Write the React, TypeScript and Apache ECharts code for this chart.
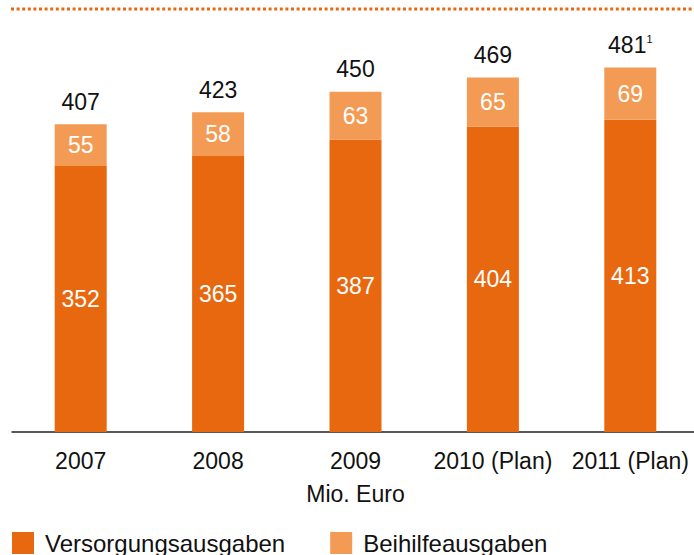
import React, { useEffect, useRef } from "react";
import * as echarts from "echarts";

const categories = ["2007", "2008", "2009", "2010 (Plan)", "2011 (Plan)"];
const versorgung = [352, 365, 387, 404, 413];
const beihilfe = [55, 58, 63, 65, 69];
const totals = ["407", "423", "450", "469", "481"];
const footnotes = ["", "", "", "", "1"];

const DARK = "#E8680F";
const LIGHT = "#F39B55";
const FONT = "Liberation Sans, Arial, Helvetica, sans-serif";

export default function App() {
  const ref = useRef<HTMLDivElement>(null);
  useEffect(() => {
    document.body.style.margin = "0";
    document.body.style.overflow = "hidden";
    if (!ref.current) return;
    const chart = echarts.init(ref.current, null, { renderer: "svg" });
    chart.setOption({
      animation: false,
      textStyle: { fontFamily: FONT },
      grid: { left: 12, width: 687, top: 54, bottom: 123, outerBoundsMode: "none", containLabel: false },
      legend: {
        left: 12,
        top: 531,
        padding: 0,
        itemWidth: 22,
        itemHeight: 22,
        itemGap: 45,
        icon: "rect",
        textStyle: { fontSize: 24, color: "#111", fontFamily: FONT, padding: [0, 0, 0, 6] },
        data: ["Versorgungsausgaben", "Beihilfeausgaben"],
      },
      graphic: [
        {
          type: "line",
          shape: { x1: 11, y1: 9, x2: 694, y2: 9 },
          style: { stroke: DARK, lineWidth: 3, lineDash: [3, 2.6] },
        },
      ],
      xAxis: {
        type: "category",
        data: categories,
        name: "Mio. Euro",
        nameLocation: "middle",
        nameGap: 50,
        nameTextStyle: { fontSize: 23, color: "#111", fontFamily: FONT },
        axisLine: { lineStyle: { color: "#222", width: 1.5 } },
        axisTick: { inside: true, length: 7, lineStyle: { color: "#222", width: 1.5 } },
        axisLabel: { fontSize: 23, color: "#111", margin: 17, fontFamily: FONT, interval: 0, hideOverlap: false },
      },
      yAxis: {
        type: "value",
        min: 0,
        max: 500,
        show: false,
        splitLine: { show: false },
      },
      series: [
        {
          name: "Versorgungsausgaben",
          type: "bar",
          stack: "s",
          barWidth: 52,
          data: versorgung,
          itemStyle: { color: DARK },
          label: { show: true, position: "inside", color: "#fff", fontSize: 23, fontFamily: FONT },
        },
        {
          name: "Beihilfeausgaben",
          type: "bar",
          stack: "s",
          barWidth: 52,
          data: beihilfe,
          itemStyle: { color: LIGHT },
          label: { show: true, position: "inside", color: "#fff", fontSize: 23, fontFamily: FONT },
        },
        {
          name: "total",
          type: "bar",
          stack: "s",
          barWidth: 52,
          data: totals.map(() => 0),
          itemStyle: { color: "transparent" },
          label: {
            show: true,
            position: "top",
            distance: 11,
            fontFamily: FONT,
            formatter: (p: any) =>
              footnotes[p.dataIndex]
                ? `{t|${totals[p.dataIndex]}}{s|${footnotes[p.dataIndex]}}`
                : `{t|${totals[p.dataIndex]}}`,
            rich: {
              t: { fontSize: 23, color: "#111", fontFamily: FONT },
              s: { fontSize: 11, color: "#111", fontFamily: FONT, verticalAlign: "top", padding: [0, 0, 9, 0] },
            },
            color: "#111",
            fontSize: 23,
          },
        },
      ],
    });
    return () => chart.dispose();
  }, []);
  return <div ref={ref} style={{ position: "absolute", left: 0, top: 0, width: 694, height: 555 }} />;
}
